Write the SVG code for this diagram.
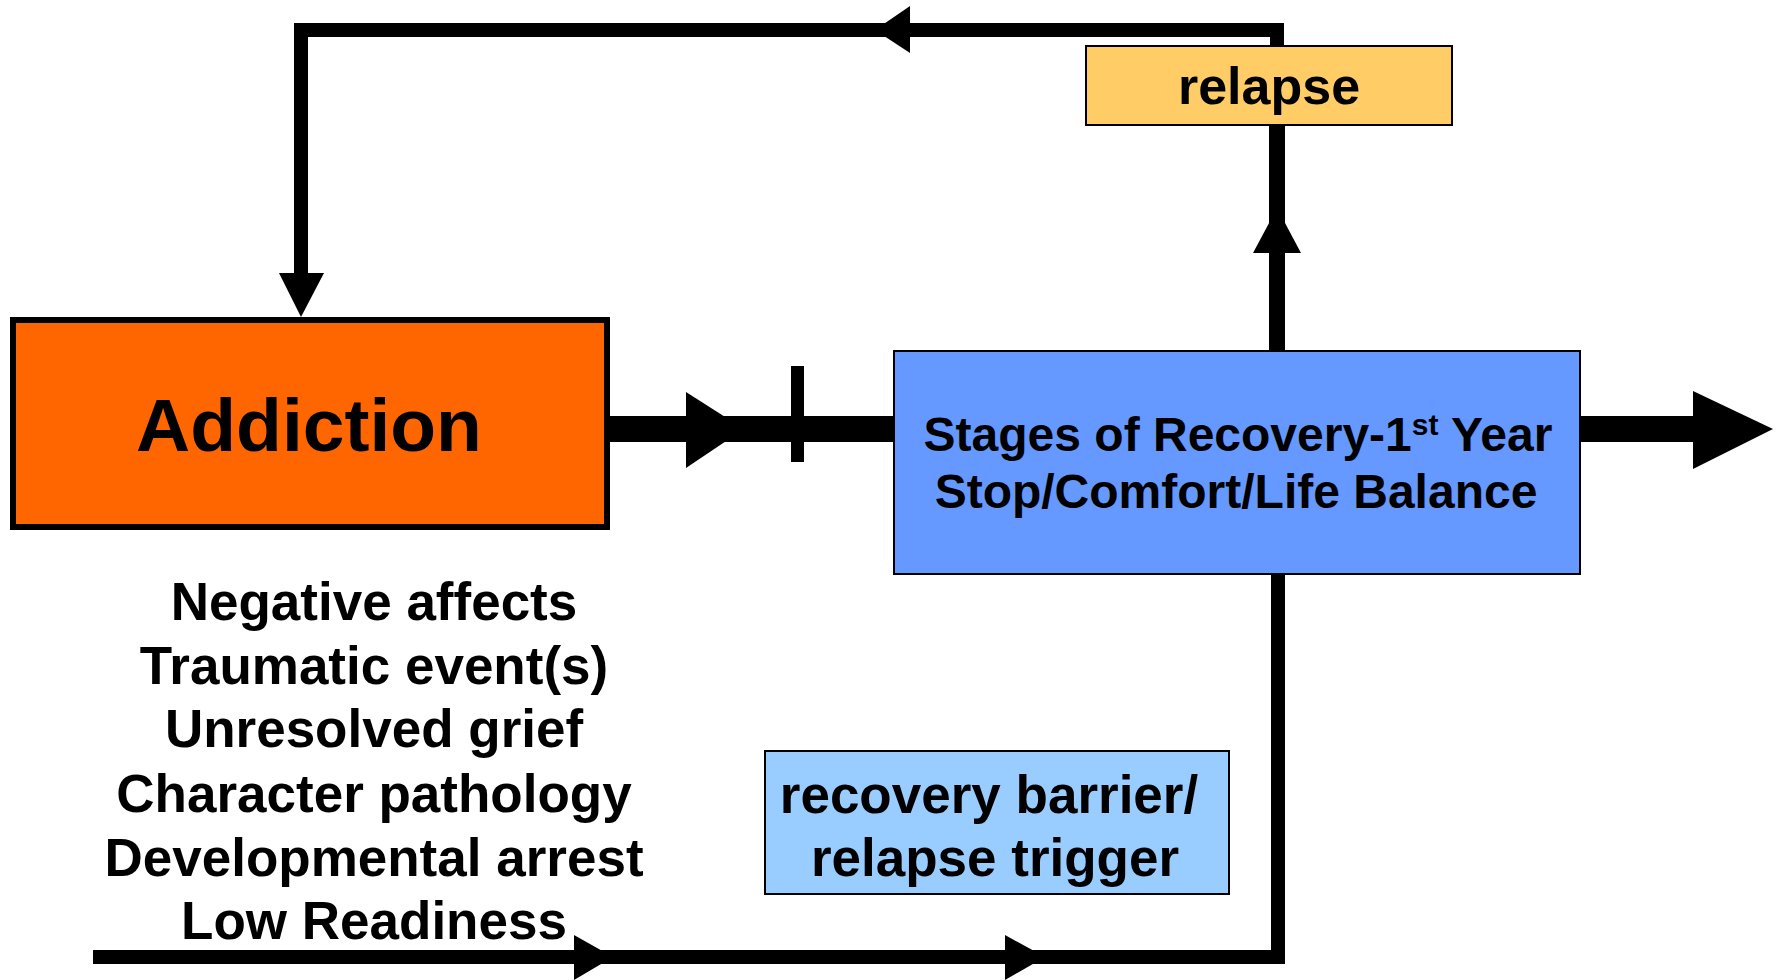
<svg xmlns="http://www.w3.org/2000/svg" width="1781" height="980" viewBox="0 0 1781 980">
<style>
text{font-family:"Liberation Sans",Arial,sans-serif;font-weight:bold;fill:#000;text-anchor:middle}
.ln{stroke:#000;fill:none;stroke-linecap:butt;stroke-linejoin:miter}
.ah{fill:#000;stroke:none}
.box{stroke:#000}
</style>
<rect width="1781" height="980" fill="#fff"/>
<g id="connectors">
<path class="ln" d="M301,273 V30 H1277 V45" stroke-width="14"/>
<polygon class="ah" points="279,273 324,273 301,317"/>
<polygon class="ah" points="875,30 910,6 910,53"/>
<path class="ln" d="M1277,125 V350" stroke-width="16"/>
<polygon class="ah" points="1277,208 1253,253 1301,253"/>
<path class="ln" d="M607,429 H893" stroke-width="26"/>
<polygon class="ah" points="686,392 744,429 686,468"/>
<rect class="ah" x="791" y="366" width="13" height="96"/>
<path class="ln" d="M1580,429 H1695" stroke-width="26"/>
<polygon class="ah" points="1693,391 1773,429 1693,469"/>
<path class="ln" d="M1278,574 V964" stroke-width="14"/>
<path class="ln" d="M93,957 H1285" stroke-width="14"/>
<polygon class="ah" points="574,935 613,957 574,980"/>
<polygon class="ah" points="1005,935 1045,957 1005,980"/>
</g>
<g id="addiction">
<rect class="box" x="13" y="320" width="594" height="207" fill="#FF6600" stroke-width="6"/>
<text x="309" y="451" font-size="75">Addiction</text>
</g>
<g id="relapse">
<rect class="box" x="1086" y="46" width="366" height="79" fill="#FFCC66" stroke-width="2"/>
<text x="1269" y="104" font-size="52">relapse</text>
</g>
<g id="stages">
<rect class="box" x="894" y="351" width="686" height="223" fill="#6699FF" stroke-width="2"/>
<text x="1238" y="451" font-size="48">Stages of Recovery-1<tspan font-size="30" dy="-16">st</tspan><tspan dy="16"> Year</tspan></text>
<text x="1236" y="508" font-size="48">Stop/Comfort/Life Balance</text>
</g>
<g id="barrier">
<rect class="box" x="765" y="751" width="464" height="143" fill="#99CCFF" stroke-width="2"/>
<text x="989" y="813" font-size="53">recovery barrier/</text>
<text x="995" y="876" font-size="53">relapse trigger</text>
</g>
<g id="factors">
<text x="374" y="620" font-size="53">Negative affects</text>
<text x="374" y="684" font-size="53">Traumatic event(s)</text>
<text x="374" y="747" font-size="53">Unresolved grief</text>
<text x="374" y="812" font-size="53">Character pathology</text>
<text x="374" y="876" font-size="53">Developmental arrest</text>
<text x="374" y="939" font-size="53">Low Readiness</text>
</g>
</svg>
